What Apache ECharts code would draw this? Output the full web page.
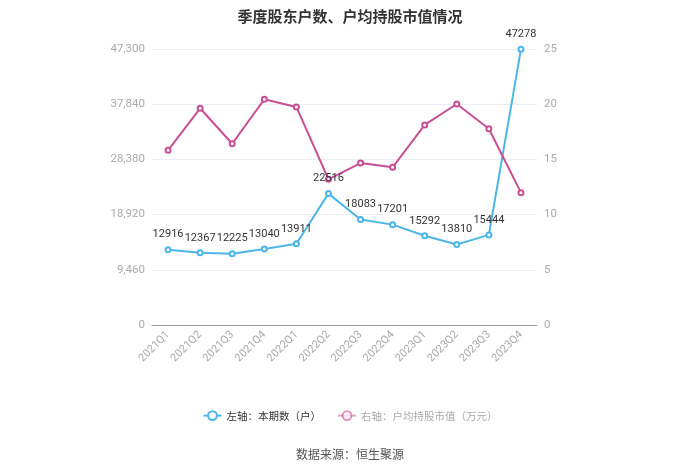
<!DOCTYPE html>
<html><head><meta charset="utf-8">
<script src="https://cdn.jsdelivr.net/npm/echarts@6/dist/echarts.min.js"></script>
<style>html,body{margin:0;padding:0;background:#fff}#c{width:700px;height:473px}</style>
</head><body><div id="c"></div>
<script>
var categories = ['2021Q1','2021Q2','2021Q3','2021Q4','2022Q1','2022Q2','2022Q3','2022Q4','2023Q1','2023Q2','2023Q3','2023Q4'];
var holders = [12916,12367,12225,13040,13911,22516,18083,17201,15292,13810,15444,47278];
var avgValue = [15.82,19.63,16.42,20.44,19.75,13.2,14.67,14.28,18.12,20.02,17.78,11.99];
var leftTicks = [0,9460,18920,28380,37840,47300];
var rightTicks = [0,5,10,15,20,25];

var chart = echarts.init(document.getElementById('c'));
var font = '"Noto Sans CJK SC",sans-serif';
var numFont = 'Roboto,sans-serif';
chart.setOption({
  backgroundColor:'#fff',
  animation:false,
  textStyle:{fontFamily:font},
  title:{text:'季度股东户数、户均持股市值情况',left:'center',top:4,
    textStyle:{fontSize:15,fontWeight:'bold',color:'#333',fontFamily:font}},
  grid:{left:152,right:163,top:49,bottom:148},
  legend:{bottom:47,left:'center',itemGap:16,itemWidth:18,itemHeight:11,
    textStyle:{fontSize:10.5,fontFamily:font},
    data:[{name:'左轴：本期数（户）',textStyle:{color:'#333'}},
          {name:'右轴：户均持股市值（万元）',textStyle:{color:'#aaa'},itemStyle:{opacity:0.6},lineStyle:{opacity:0.5}}]},
  graphic:[{type:'text',left:'center',top:448,style:{text:'数据来源：恒生聚源',fontSize:12,fill:'#555',fontFamily:font}}],
  xAxis:{type:'category',data:categories,boundaryGap:true,
    axisLine:{lineStyle:{color:'#999'}},
    axisTick:{alignWithLabel:true,lineStyle:{color:'#999'}},
    axisLabel:{rotate:45,color:'#aaa',fontSize:11,margin:8,fontFamily:numFont}},
  yAxis:[{type:'value',min:leftTicks[0],max:leftTicks[leftTicks.length-1],interval:leftTicks[1]-leftTicks[0],
      axisLine:{show:false},axisTick:{show:false},
      axisLabel:{color:'#aaa',fontSize:11.5,margin:7,fontFamily:numFont,formatter:function(v){return v.toLocaleString('en-US');}},
      splitLine:{lineStyle:{color:'#eceef5'}}},
    {type:'value',min:rightTicks[0],max:rightTicks[rightTicks.length-1],interval:rightTicks[1]-rightTicks[0],
      axisLine:{show:false},axisTick:{show:false},
      axisLabel:{color:'#aaa',fontSize:11.5,margin:7,fontFamily:numFont},
      splitLine:{show:false}}],
  series:[
    {name:'左轴：本期数（户）',type:'line',yAxisIndex:0,data:holders,
      symbol:'emptyCircle',symbolSize:5,
      lineStyle:{color:'#4db6e9',width:2},itemStyle:{color:'#4db6e9'},
      label:{show:true,position:'top',distance:6,color:'#333',fontSize:11,fontFamily:numFont}},
    {name:'右轴：户均持股市值（万元）',type:'line',yAxisIndex:1,data:avgValue,
      symbol:'emptyCircle',symbolSize:5,
      lineStyle:{color:'#c94f94',width:2},itemStyle:{color:'#c94f94'}}
  ]
});
</script></body></html>
